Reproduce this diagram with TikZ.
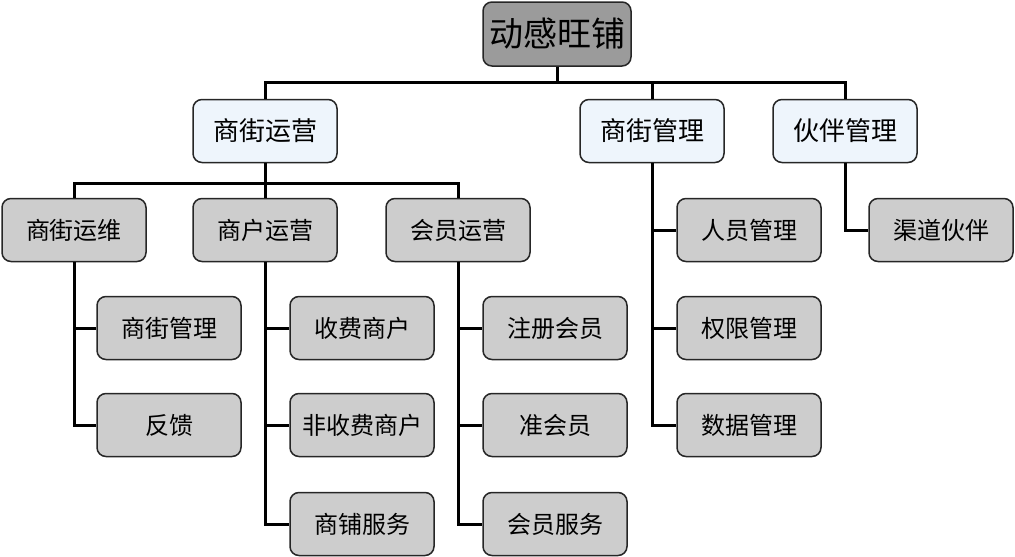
\documentclass[tikz,border=0pt]{standalone}
\usepackage{fontspec}
\setmainfont{Noto Sans CJK SC}
\usepackage{tikz}

\definecolor{rootgray}{HTML}{9B9B9B}
\definecolor{paleblue}{HTML}{EEF5FC}
\definecolor{boxgray}{HTML}{CDCDCD}

\begin{document}
\begin{tikzpicture}[x=1pt, y=-1pt, line width=3pt,
    box/.style={draw=black!85, line width=1.5pt, rounded corners=9pt, fill=boxgray,
                minimum width=144pt, minimum height=63pt, inner sep=0pt, font=\fontsize{24}{24}\selectfont},
    topbox/.style={box, fill=rootgray, minimum width=148pt, minimum height=64pt, font=\fontsize{34}{34}\selectfont},
    midbox/.style={box, fill=paleblue, font=\fontsize{26}{26}\selectfont}]
                \useasboundingbox (0,0) rectangle (1015,557);

                \node[topbox] (root) at (557,34) {动感旺铺};

                \node[midbox] (op) at (265,131) {商街运营};
                \node[midbox] (mg) at (652,131) {商街管理};
                \node[midbox] (pt) at (845,131) {伙伴管理};

                \node[box] (op1) at (74,230) {商街运维};
                \node[box] (op2) at (265,230) {商户运营};
                \node[box] (op3) at (458,230) {会员运营};

                \node[box] (op11) at (169,328) {商街管理};
                \node[box] (op12) at (169,425) {反馈};

                \node[box] (op21) at (362,328) {收费商户};
                \node[box] (op22) at (362,425) {非收费商户};
                \node[box] (op23) at (362,524) {商铺服务};

                \node[box] (op31) at (555,328) {注册会员};
                \node[box] (op32) at (555,425) {准会员};
                \node[box] (op33) at (555,524) {会员服务};

                \node[box] (mg1) at (749,230) {人员管理};
                \node[box] (mg2) at (749,328) {权限管理};
                \node[box] (mg3) at (749,425) {数据管理};

                \node[box] (pt1) at (941,230) {渠道伙伴};

                % top level
                \draw (root.south) -- ++(0,16) -| (op.north);
                \draw (root.south) -- ++(0,16) -| (mg.north);
                \draw (root.south) -- ++(0,16) -| (pt.north);

                % 商街运营
                \draw (op.south) -- ++(0,20) -| (op1.north);
                \draw (op.south) -- (op2.north);
                \draw (op.south) -- ++(0,20) -| (op3.north);

                \draw (op1.south) |- (op11.west);
                \draw (op1.south) |- (op12.west);
                \draw (op2.south) |- (op21.west);
                \draw (op2.south) |- (op22.west);
                \draw (op2.south) |- (op23.west);
                \draw (op3.south) |- (op31.west);
                \draw (op3.south) |- (op32.west);
                \draw (op3.south) |- (op33.west);

                % 商街管理, 伙伴管理
                \draw (mg.south) |- (mg1.west);
                \draw (mg.south) |- (mg2.west);
                \draw (mg.south) |- (mg3.west);
                \draw (pt.south) |- (pt1.west);
            \end{tikzpicture}
\end{document}
